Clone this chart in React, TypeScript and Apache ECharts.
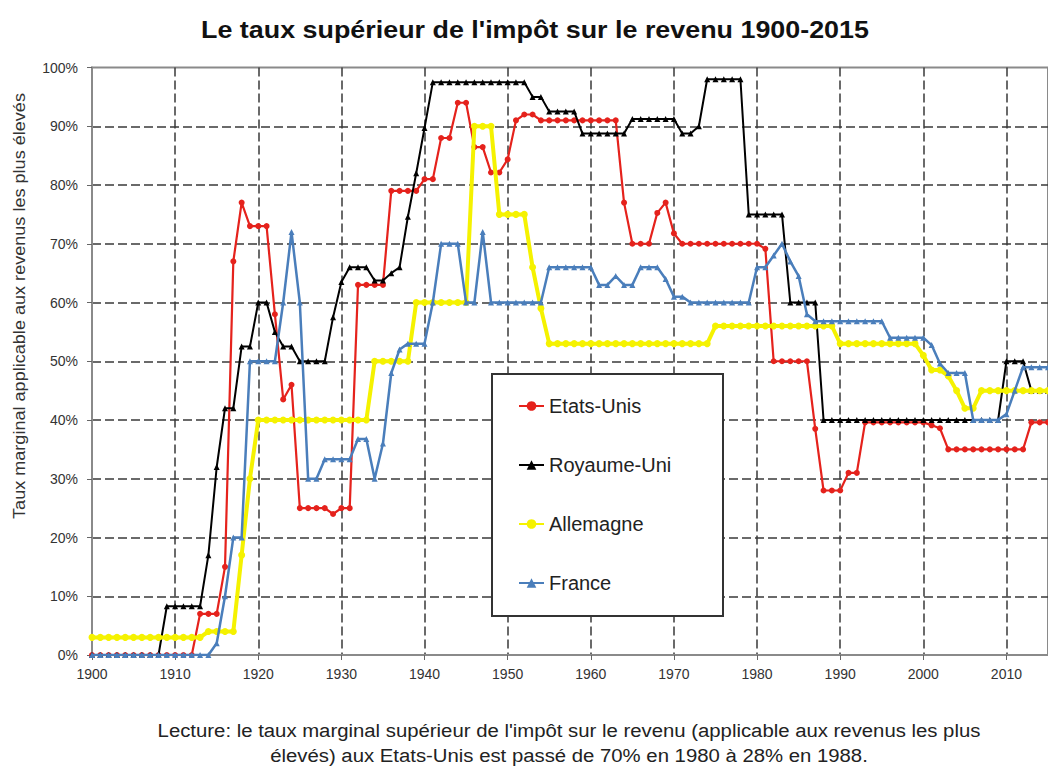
import React, { useEffect, useRef } from "react";
import * as echarts from "echarts";

const years = [
  1900, 1901, 1902, 1903, 1904, 1905, 1906, 1907, 1908, 1909,
  1910, 1911, 1912, 1913, 1914, 1915, 1916, 1917, 1918, 1919,
  1920, 1921, 1922, 1923, 1924, 1925, 1926, 1927, 1928, 1929,
  1930, 1931, 1932, 1933, 1934, 1935, 1936, 1937, 1938, 1939,
  1940, 1941, 1942, 1943, 1944, 1945, 1946, 1947, 1948, 1949,
  1950, 1951, 1952, 1953, 1954, 1955, 1956, 1957, 1958, 1959,
  1960, 1961, 1962, 1963, 1964, 1965, 1966, 1967, 1968, 1969,
  1970, 1971, 1972, 1973, 1974, 1975, 1976, 1977, 1978, 1979,
  1980, 1981, 1982, 1983, 1984, 1985, 1986, 1987, 1988, 1989,
  1990, 1991, 1992, 1993, 1994, 1995, 1996, 1997, 1998, 1999,
  2000, 2001, 2002, 2003, 2004, 2005, 2006, 2007, 2008, 2009,
  2010, 2011, 2012, 2013, 2014, 2015,
];

// Etats-Unis
const etatsUnis = [
  0, 0, 0, 0, 0, 0, 0, 0, 0, 0,
  0, 0, 0, 7, 7, 7, 15, 67, 77, 73,
  73, 73, 58, 43.5, 46, 25, 25, 25, 25, 24,
  25, 25, 63, 63, 63, 63, 79, 79, 79, 79,
  81, 81, 88, 88, 94, 94, 86.45, 86.45, 82.13, 82.13,
  84.36, 91, 92, 92, 91, 91, 91, 91, 91, 91,
  91, 91, 91, 91, 77, 70, 70, 70, 75.25, 77,
  71.75, 70, 70, 70, 70, 70, 70, 70, 70, 70,
  70, 69.13, 50, 50, 50, 50, 50, 38.5, 28, 28,
  28, 31, 31, 39.6, 39.6, 39.6, 39.6, 39.6, 39.6, 39.6,
  39.6, 39.1, 38.6, 35, 35, 35, 35, 35, 35, 35,
  35, 35, 35, 39.6, 39.6, 39.6,
];

// Royaume-Uni
const royaumeUni = [
  0, 0, 0, 0, 0, 0, 0, 0, 0, 8.3,
  8.3, 8.3, 8.3, 8.3, 17, 32, 42, 42, 52.5, 52.5,
  60, 60, 55, 52.5, 52.5, 50, 50, 50, 50, 57.5,
  63.5, 66, 66, 66, 63.75, 63.75, 65, 66, 74.6, 82,
  89.7, 97.5, 97.5, 97.5, 97.5, 97.5, 97.5, 97.5, 97.5, 97.5,
  97.5, 97.5, 97.5, 95, 95, 92.5, 92.5, 92.5, 92.5, 88.75,
  88.75, 88.75, 88.75, 88.75, 88.75, 91.25, 91.25, 91.25, 91.25, 91.25,
  91.25, 88.75, 88.75, 90, 98, 98, 98, 98, 98, 75,
  75, 75, 75, 75, 60, 60, 60, 60, 40, 40,
  40, 40, 40, 40, 40, 40, 40, 40, 40, 40,
  40, 40, 40, 40, 40, 40, 40, 40, 40, 40,
  50, 50, 50, 45, 45, 45,
];

// Allemagne
const allemagne = [
  3, 3, 3, 3, 3, 3, 3, 3, 3, 3,
  3, 3, 3, 3, 4, 4, 4, 4, 17, 30,
  40, 40, 40, 40, 40, 40, 40, 40, 40, 40,
  40, 40, 40, 40, 50, 50, 50, 50, 50, 60,
  60, 60, 60, 60, 60, 60, 90, 90, 90, 75,
  75, 75, 75, 66, 59, 53, 53, 53, 53, 53,
  53, 53, 53, 53, 53, 53, 53, 53, 53, 53,
  53, 53, 53, 53, 53, 56, 56, 56, 56, 56,
  56, 56, 56, 56, 56, 56, 56, 56, 56, 56,
  53, 53, 53, 53, 53, 53, 53, 53, 53, 53,
  51, 48.5, 48.5, 47.5, 45, 42, 42, 45, 45, 45,
  45, 45, 45, 45, 45, 45,
];

// France
const france = [
  0, 0, 0, 0, 0, 0, 0, 0, 0, 0,
  0, 0, 0, 0, 0, 2, 10, 20, 20, 50,
  50, 50, 50, 60, 72, 60, 30, 30, 33.3, 33.3,
  33.3, 33.3, 36.75, 36.75, 30, 36, 48, 52, 53, 53,
  53, 60, 70, 70, 70, 60, 60, 72, 60, 60,
  60, 60, 60, 60, 60, 66, 66, 66, 66, 66,
  66, 63, 63, 64.5, 63, 63, 66, 66, 66, 64,
  61, 61, 60, 60, 60, 60, 60, 60, 60, 60,
  66, 66, 68, 70, 67, 64.5, 58, 56.8, 56.8, 56.8,
  56.8, 56.8, 56.8, 56.8, 56.8, 56.8, 54, 54, 54, 54,
  54, 52.75, 49.6, 48, 48, 48, 40, 40, 40, 40,
  41, 45, 49, 49, 49, 49,
];

const seriesNames = ["Etats-Unis", "Royaume-Uni", "Allemagne", "France"];
const seriesValues = [etatsUnis, royaumeUni, allemagne, france];
const seriesColors = ["#E5221C", "#000000", "#F5F200", "#4A7EBB"];
const seriesSymbols = ["circle", "triangle", "circle", "triangle"];
const seriesLineWidths = [2.2, 2, 4, 2.5];
const seriesSymbolSizes = [6, 6, 7, 6];

const titleText = "Le taux supérieur de l'impôt sur le revenu 1900-2015";
const yAxisTitle = "Taux marginal applicable aux revenus les plus élevés";
const noteLine1 =
  "Lecture: le taux marginal supérieur de l'impôt sur le revenu (applicable aux revenus les plus";
const noteLine2 =
  "élevés) aux Etats-Unis est passé de 70% en 1980 à 28% en 1988.";

const FONT = "'Liberation Sans', Arial, sans-serif";

export default function App() {
  const ref = useRef<HTMLDivElement>(null);

  useEffect(() => {
    if (!ref.current) return;
    const chart = echarts.init(ref.current, undefined, { renderer: "svg" });

    const series = seriesNames.map((name, i) => ({
      name,
      type: "line",
      data: years.map((y, j) => [y, seriesValues[i][j]]),
      symbol: seriesSymbols[i],
      symbolSize: seriesSymbolSizes[i],
      showAllSymbol: true,
      lineStyle: { color: seriesColors[i], width: seriesLineWidths[i] },
      itemStyle: { color: seriesColors[i] },
      emphasis: { disabled: true },
      z: 2 + i,
    }));

    chart.setOption({
      animation: false,
      backgroundColor: "#ffffff",
      textStyle: { fontFamily: FONT },
      grid: {
        left: 92,
        top: 67.5,
        bottom: 112,
        right: -2,
        show: true,
        borderColor: "#8a8a8a",
        borderWidth: 2,
        backgroundColor: "transparent",
      },
      xAxis: {
        type: "value",
        min: 1900,
        max: 2015,
        interval: 10,
        axisLine: { show: true, onZero: false, lineStyle: { color: "#8a8a8a", width: 2 } },
        axisTick: { show: true, length: 5, lineStyle: { color: "#666" } },
        axisLabel: {
          showMaxLabel: false,
          margin: 12,
          fontSize: 14,
          color: "#333",
          fontFamily: FONT,
          formatter: (v: number) => String(v),
        },
        splitLine: {
          show: true,
          showMinLine: false,
          showMaxLine: false,
          lineStyle: { color: "#3a3a3a", width: 1.5, type: [9, 4] },
        },
      },
      yAxis: {
        type: "value",
        min: 0,
        max: 100,
        interval: 10,
        axisLine: { show: true, lineStyle: { color: "#8a8a8a", width: 2 } },
        axisTick: { show: true, length: 5, lineStyle: { color: "#666" } },
        axisLabel: {
          margin: 14,
          fontSize: 14,
          color: "#333",
          fontFamily: FONT,
          formatter: "{value}%",
        },
        splitLine: {
          show: true,
          showMinLine: false,
          showMaxLine: false,
          lineStyle: { color: "#3a3a3a", width: 1.5, type: [9, 4] },
        },
      },
      legend: {
        orient: "vertical",
        left: 518,
        top: 396,
        padding: 0,
        itemWidth: 25,
        itemHeight: 12,
        itemGap: 39,
        z: 20,
        data: seriesNames,
        textStyle: { fontSize: 20, color: "#222", fontFamily: FONT },
      },
      graphic: [
        {
          type: "rect",
          z: 10,
          shape: { x: 492, y: 374, width: 231, height: 242 },
          style: { fill: "#ffffff", stroke: "#333", lineWidth: 2 },
        },
        {
          type: "text",
          x: 535,
          y: 30,
          scaleX: 1.12,
          style: {
            text: titleText,
            fontSize: 24,
            fontWeight: "bold",
            fontFamily: FONT,
            fill: "#111",
            textAlign: "center",
            textVerticalAlign: "middle",
          },
        },
        {
          type: "text",
          x: 20,
          y: 306,
          rotation: Math.PI / 2,
          scaleX: 1.13,
          style: {
            text: yAxisTitle,
            fontSize: 16,
            fontFamily: FONT,
            fill: "#333",
            textAlign: "center",
            textVerticalAlign: "middle",
          },
        },
        {
          type: "text",
          x: 569,
          y: 731,
          scaleX: 1.13,
          style: {
            text: noteLine1,
            fontSize: 18,
            fontFamily: FONT,
            fill: "#222",
            textAlign: "center",
            textVerticalAlign: "middle",
          },
        },
        {
          type: "text",
          x: 569,
          y: 756,
          scaleX: 1.13,
          style: {
            text: noteLine2,
            fontSize: 18,
            fontFamily: FONT,
            fill: "#222",
            textAlign: "center",
            textVerticalAlign: "middle",
          },
        },
      ],
      series,
    });

    return () => chart.dispose();
  }, []);

  return (
    <div
      ref={ref}
      style={{ position: "fixed", left: 0, top: 0, width: 1048, height: 767, background: "#fff" }}
    />
  );
}
